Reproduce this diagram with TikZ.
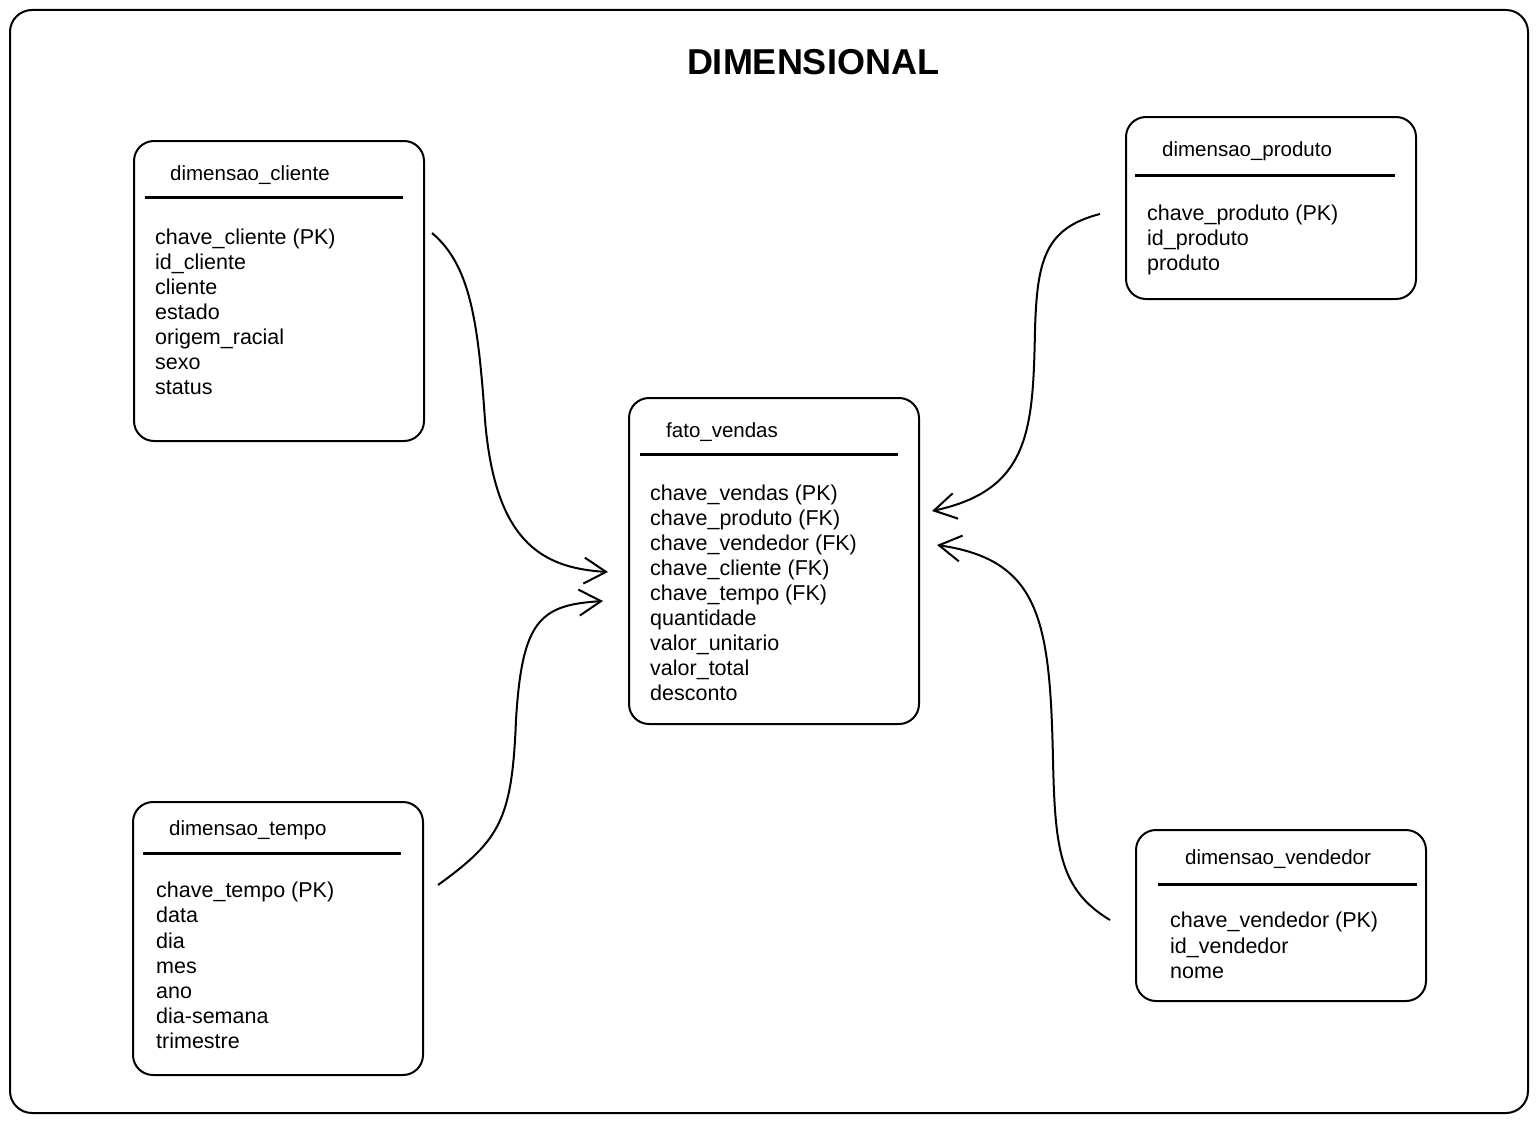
\documentclass[tikz,border=0pt]{standalone}
\usepackage{fontspec}
\setmainfont{Liberation Sans}
\usetikzlibrary{arrows.meta}
\tikzset{
  tbl/.style={draw, line width=2pt, rounded corners=20pt, anchor=north west, inner sep=0pt},
  hdrline/.style={line width=3pt},
  fld/.style={anchor=mid west, inner sep=0pt, font=\fontsize{21.5}{25}\selectfont},
  ttl/.style={anchor=mid west, inner sep=0pt, font=\fontsize{20.5}{25}\selectfont},
  conn/.style={line width=2pt, -{Straight Barb[length=22pt,width=26pt,line width=2pt]}},
}
\begin{document}
\begin{tikzpicture}[x=1pt,y=-1pt]
\useasboundingbox (0,0) rectangle (1537,1124);
\draw[line width=2pt, rounded corners=22pt] (10,10) rectangle (1528,1113);
\node[font=\fontsize{36}{40}\selectfont\bfseries] (title) at (813,62) {DIMENSIONAL};

% dimensao_cliente
\node[tbl, minimum width=290pt, minimum height=300pt] (cliente) at (133,140) {};
\node[ttl] (clT) at (170,178) {dimensao\_cliente};
\draw[hdrline] (145,197) -- (403,197);
\foreach \t [count=\i from 0] in {chave\_cliente (PK), id\_cliente, cliente, estado, origem\_racial, sexo, status}
  \node[fld] (cl\i) at (155,242+25*\i) {\t};

% dimensao_produto
\node[tbl, minimum width=290pt, minimum height=182pt] (produto) at (1125,116) {};
\node[ttl] (prT) at (1162,154) {dimensao\_produto};
\draw[hdrline] (1135,175) -- (1395,175);
\foreach \t [count=\i from 0] in {chave\_produto (PK), id\_produto, produto}
  \node[fld] (pr\i) at (1147,218+25*\i) {\t};

% fato_vendas
\node[tbl, minimum width=290pt, minimum height=326pt] (fato) at (628,397) {};
\node[ttl] (faT) at (666,435) {fato\_vendas};
\draw[hdrline] (640,454) -- (898,454);
\foreach \t [count=\i from 0] in {chave\_vendas (PK), chave\_produto (FK), chave\_vendedor (FK), chave\_cliente (FK), chave\_tempo (FK), quantidade, valor\_unitario, valor\_total, desconto}
  \node[fld] (fa\i) at (650,498+25*\i) {\t};

% dimensao_tempo
\node[tbl, minimum width=290pt, minimum height=273pt] (tempo) at (132,801) {};
\node[ttl] (teT) at (169,833) {dimensao\_tempo};
\draw[hdrline] (143,853) -- (401,853);
\foreach \t [count=\i from 0] in {chave\_tempo (PK), data, dia, mes, ano, dia-semana, trimestre}
  \node[fld] (te\i) at (156,895+25.2*\i) {\t};

% dimensao_vendedor
\node[tbl, minimum width=290pt, minimum height=171pt] (vendedor) at (1135,829) {};
\node[ttl] (veT) at (1185,862) {dimensao\_vendedor};
\draw[hdrline] (1158,884) -- (1417,884);
\foreach \t [count=\i from 0] in {chave\_vendedor (PK), id\_vendedor, nome}
  \node[fld] (ve\i) at (1170,925+25.5*\i) {\t};

% connectors
\coordinate (a1s) at (432,233);
\coordinate (a1e) at (608,572);
\coordinate (a2s) at (438,885);
\coordinate (a2e) at (603,601);
\coordinate (a3s) at (1100,214);
\coordinate (a3e) at (932,511);
\coordinate (a4s) at (1110,920);
\coordinate (a4e) at (937,545);
\draw[conn] (a1s) .. controls (470,265) and (478,320) .. (485,420) .. controls (495,540) and (540,568) .. (a1e);
\draw[conn] (a2s) .. controls (500,840) and (512,820) .. (516,720) .. controls (522,620) and (540,605) .. (a2e);
\draw[conn] (a3s) .. controls (1045,228) and (1037,260) .. (1035,330) .. controls (1033,430) and (1030,490) .. (a3e);
\draw[conn] (a4s) .. controls (1060,890) and (1055,850) .. (1053,760) .. controls (1050,620) and (1040,560) .. (a4e);
\end{tikzpicture}
\end{document}
